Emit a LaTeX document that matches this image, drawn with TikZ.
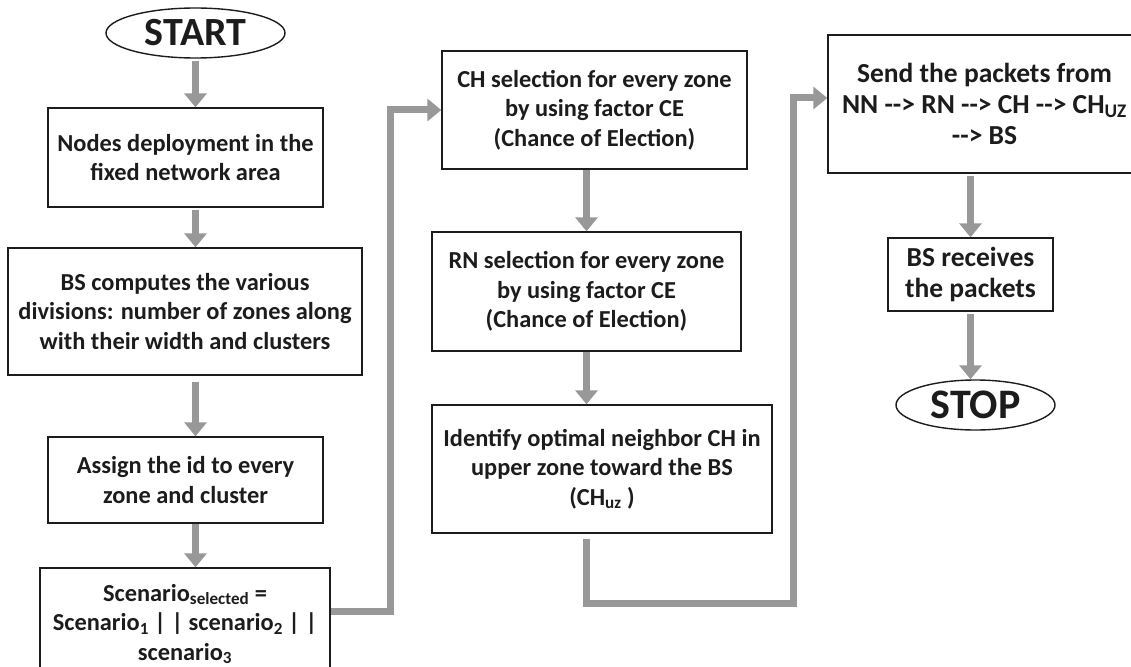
\documentclass[tikz,border=0pt]{standalone}
\usepackage{fontspec}
\setmainfont{Carlito}
\usetikzlibrary{arrows.meta,shapes.geometric,calc}
\definecolor{flowgray}{RGB}{152,152,152}
\definecolor{ink}{RGB}{28,28,28}
\begin{document}
\begin{tikzpicture}[x=1pt,y=-1pt,
  box/.style={draw=ink, line width=1.4pt, rectangle, align=center,
    font=\bfseries\fontsize{24.4}{29.5}\selectfont, text=ink, inner sep=0pt},
  bigbox/.style={box, font=\bfseries\fontsize{27.5}{31}\selectfont},
  term/.style={draw=ink, line width=1.4pt, ellipse, inner sep=0pt,
    font=\bfseries\fontsize{40}{44}\selectfont, text=ink},
  arr/.style={draw=flowgray, line width=7pt, -{Triangle[width=22pt,length=14pt]}},
]
\useasboundingbox (0,0) rectangle (1131,666);
\clip (0,0) rectangle (1131,666);

% column 1
\node[term, minimum width=179pt, minimum height=50pt] (start) at (195.5,33) {START};
\node[box, minimum width=275pt, minimum height=99pt] (n1) at (185.5,157.5)
  {Nodes deployment in the\\fixed network area};
\node[box, minimum width=354pt, minimum height=127pt] (n2) at (185,311.5)
  {BS computes the various\\divisions: number of zones along\\with their width and clusters};
\node[box, minimum width=275pt, minimum height=86pt] (n3) at (185.5,480)
  {Assign the id to every\\zone and cluster};
\node[box, minimum width=290pt, minimum height=112pt] (n4) at (185,624)
  {Scenario\textsubscript{selected} =\\Scenario\textsubscript{1} | | scenario\textsubscript{2} | |\\scenario\textsubscript{3}};

% column 2
\node[box, minimum width=305pt, minimum height=118pt] (ch) at (594.5,110)
  {CH selection for every zone\\by using factor CE\\(Chance of Election)};
\node[box, minimum width=309pt, minimum height=119pt] (rn) at (586.5,291.5)
  {RN selection for every zone\\by using factor CE\\(Chance of Election)};
\node[box, minimum width=340pt, minimum height=128pt] (id) at (602,469)
  {Identify optimal neighbor CH in\\upper zone toward the BS\\(CH\textsubscript{uz} )};

% column 3
\node[bigbox, minimum width=313pt, minimum height=138pt] (send) at (984.5,104)
  {Send the packets from\\NN -{}-> RN -{}-> CH -{}-> CH\textsubscript{UZ}\\-{}-> BS};
\node[bigbox, minimum width=165pt, minimum height=73pt] (rec) at (970.5,274.5)
  {BS receives\\the packets};
\node[term, minimum width=159pt, minimum height=50pt, font=\bfseries\fontsize{42}{46}\selectfont] (stop) at (975.5,405) {STOP};

\coordinate (j1) at (390,611);
\coordinate (j2) at (793,603);

% arrows column 1
\draw[arr] ([yshift=-2pt]start.south) -- (start.south |- n1.north);
\draw[arr] ([yshift=-2pt]n1.south -| start) -- (n2.north -| start);
\draw[arr] ([yshift=-6pt]n2.south -| start) -- (n3.north -| start);
\draw[arr] (n3.south -| start) -- (n4.north -| start);
% column 1 -> column 2
\draw[arr] (n4.east |- j1) -- (j1) |- (ch.west);
% arrows column 2
\draw[arr] (ch.south -| rn) -- (rn.north);
\draw[arr] (rn.south) -- (id.north -| rn);
% column 2 -> column 3
\draw[arr] ([yshift=-5pt]id.south -| rn) |- (j2) |- ([yshift=6pt]send.west);
% arrows column 3
\draw[arr] ([yshift=-2pt]send.south -| rec) -- (rec.north);
\draw[arr] ([yshift=-2pt]rec.south) -- (stop.north -| rec);
\end{tikzpicture}
\end{document}
